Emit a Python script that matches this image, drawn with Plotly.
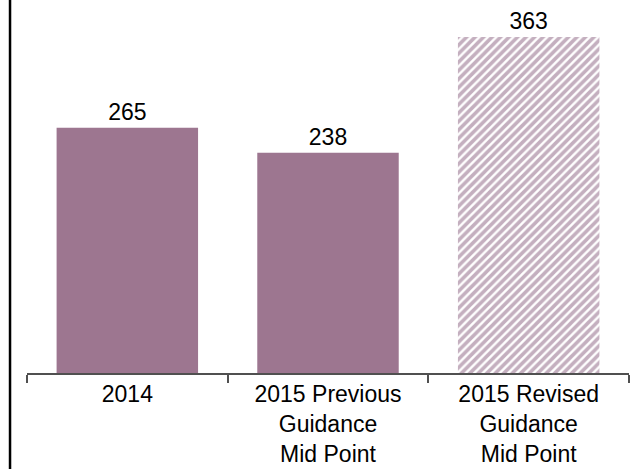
import plotly.graph_objects as go

categories = ["2014", "2015 Previous<br>Guidance<br>Mid Point", "2015 Revised<br>Guidance<br>Mid Point"]
values = [265, 238, 363]
labels = ["265", "238", "363"]

BAR = "#9D7690"
FONT = "Liberation Sans, Arial, sans-serif"

fig = go.Figure()
fig.add_trace(go.Bar(
    x=categories[:2], y=values[:2], text=labels[:2],
    textposition="outside", cliponaxis=False,
    marker=dict(color=BAR, line=dict(width=0)),
    textfont=dict(size=23, color="#000000", family=FONT),
    width=0.705, showlegend=False,
))
fig.add_trace(go.Bar(
    x=categories[2:], y=values[2:], text=labels[2:],
    textposition="outside", cliponaxis=False,
    marker=dict(color="white", line=dict(width=0),
                pattern=dict(shape="/", fgcolor="#8A6080", bgcolor="white", size=6, solidity=0.6)),
    textfont=dict(size=23, color="#000000", family=FONT),
    width=0.705, showlegend=False,
))

fig.update_layout(
    width=633, height=469,
    margin=dict(l=27, r=4, t=10, b=96),
    paper_bgcolor="white", plot_bgcolor="white",
    barmode="overlay",
    font=dict(family=FONT, size=23, color="#000000"),
    xaxis=dict(
        categoryorder="array", categoryarray=categories,
        range=[-0.5, 2.5], automargin=False,
        showline=True, linecolor="#505050", linewidth=1.5,
        ticks="outside", tickson="boundaries", ticklen=8, tickcolor="#505050", tickwidth=1.5,
        tickfont=dict(size=23, family=FONT, color="#000000"),
        showgrid=False, zeroline=False, fixedrange=True,
    ),
    yaxis=dict(range=[0, 392.2], visible=False, showgrid=False, zeroline=False, automargin=False),
    shapes=[dict(type="line", xref="paper", yref="paper",
                 x0=-0.0282, x1=-0.0282, y0=-1, y1=2,
                 line=dict(color="#000000", width=2.5))],
)

fig.write_html("out.html", config={"displayModeBar": False},
               post_script="document.body.style.margin='0';document.body.style.overflow='hidden';")
